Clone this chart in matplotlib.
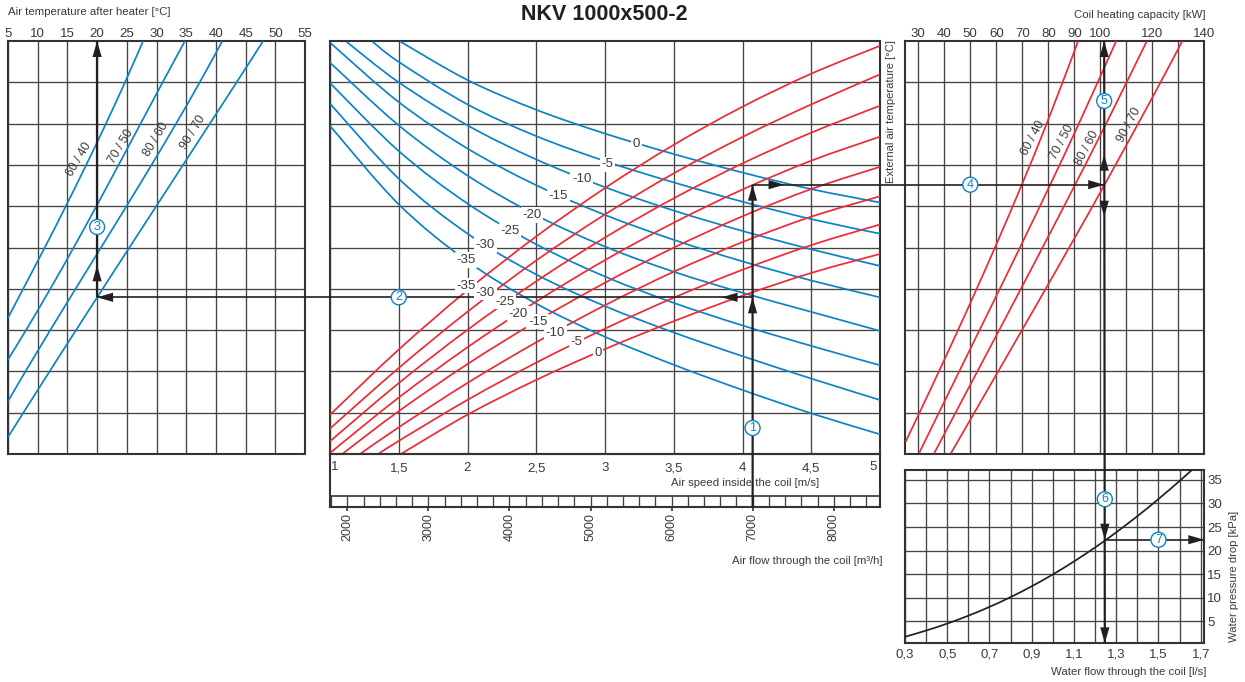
import matplotlib
matplotlib.use('Agg')
import matplotlib.pyplot as plt
import numpy as np
from matplotlib.path import Path
from matplotlib.patches import PathPatch, Polygon

plt.rcParams['font.family'] = ['Liberation Sans', 'DejaVu Sans']

BLUE = '#0a84c6'
RED = '#ee2a35'
INK = '#231f20'
TXT = '#3a3a3a'
GRID = '#444444'

# the panels have no y scale, heights are in chart units, grid every 41.3
chart_h = 413
grid_y = [41.3 * i for i in range(1, 10)]

# left panel: air temperature after heater
temp_ticks = [5, 10, 15, 20, 25, 30, 35, 40, 45, 50, 55]
regimes = ['60 / 40', '70 / 50', '80 / 60', '90 / 70']
heater_t = [
    [27.7, 24.9, 21.3, 18.1, 14.9, 11.0, 5.0],
    [34.8, 31.1, 27.2, 23.6, 20.0, 15.9, 12.1, 7.9, 5.0],
    [41.1, 37.3, 33.3, 29.1, 25.0, 20.5, 16.3, 12.1, 7.9, 5.0],
    [47.9, 43.6, 39.0, 34.5, 29.9, 25.2, 20.8, 16.5, 12.1, 7.5, 5.0],
]
heater_h = [
    [413, 372, 330.7, 288.5, 247, 206, 136],
    [413, 372, 330.7, 288.5, 247, 206, 165, 123, 94],
    [413, 372, 330.7, 288.5, 247, 206, 165, 123, 82, 53],
    [413, 372, 330.7, 288.5, 247, 206, 165, 123, 82, 41.5, 17],
]

# centre panel: speed / external temperature
speed_ticks = [1, 1.5, 2, 2.5, 3, 3.5, 4, 4.5, 5]
speed_labels = ['', '1,5', '2', '2,5', '3', '3,5', '4', '4,5', '']
flow_ticks = [2000, 3000, 4000, 5000, 6000, 7000, 8000]
ext_temps = ['0', '-5', '-10', '-15', '-20', '-25', '-30', '-35']

blue_s = [
    [1.51, 2, 2.5, 3, 3.5, 4, 4.5, 5],
    [1.31, 1.5, 2, 2.5, 3, 3.5, 4, 4.5, 5],
    [1.12, 1.5, 2, 2.5, 3, 3.5, 4, 4.5, 5],
    [1, 1.5, 2, 2.5, 3, 3.5, 4, 4.5, 5],
    [1, 1.5, 2, 2.5, 3, 3.5, 4, 4.5, 5],
    [1, 1.5, 2, 2.5, 3, 3.5, 4, 4.5, 5],
    [1, 1.5, 2, 2.5, 3, 3.5, 4, 4.5, 5],
    [1, 1.5, 2, 2.5, 3, 3.5, 4, 4.5, 5],
]
blue_h = [
    [412.5, 374, 345, 319, 300.5, 282.3, 264, 251.7],
    [412.3, 392.3, 349, 318, 294, 271, 251.3, 236, 220],
    [412.3, 372, 327.3, 296, 267, 243, 222, 206, 187.7],
    [412.3, 350, 304.7, 273, 238, 212, 192, 176, 155.7],
    [391.7, 327.3, 280.7, 237, 208, 182.3, 161, 142.3, 123],
    [370.7, 304, 249, 211, 176, 152, 129, 107.3, 89],
    [349, 280.7, 214, 181, 149, 122.3, 97, 75, 54.3],
    [328.3, 249, 194, 149, 118, 89, 64, 40.7, 19.7],
]
blue_lab_s = [3.23, 3.02, 2.83, 2.66, 2.47, 2.31, 2.13, 1.99]
blue_lab_h = [309.7, 289.7, 275, 258, 239, 223, 209, 194]

red_s = [
    [1.52, 2, 2.5, 3, 3.5, 4, 4.5, 5],
    [1.35, 1.5, 2, 2.5, 3, 3.5, 4, 4.5, 5],
    [1.22, 1.5, 2, 2.5, 3, 3.5, 4, 4.5, 5],
    [1.09, 1.5, 2, 2.5, 3, 3.5, 4, 4.5, 5],
    [1, 1.5, 2, 2.5, 3, 3.5, 4, 4.5, 5],
    [1, 1.5, 2, 2.5, 3, 3.5, 4, 4.5, 5],
    [1, 1.5, 2, 2.5, 3, 3.5, 4, 4.5, 5],
    [1, 1.5, 2, 2.5, 3, 3.5, 4, 4.5, 5],
]
red_h = [
    [0.5, 39, 74, 106, 131.3, 159, 181, 200],
    [0.5, 12.3, 54, 92.3, 125, 155, 186, 208, 229.7],
    [0.5, 25.7, 72.3, 111, 149, 181, 214, 236, 258],
    [0.5, 41.7, 91, 132.3, 172, 204, 240, 264, 287.3],
    [1.3, 55.7, 107.3, 152.3, 195, 229, 266, 293, 317.3],
    [13.3, 69, 126, 172.3, 217.3, 254, 291, 322, 348],
    [25.7, 85, 144, 192.3, 240, 280, 318, 349, 379.7],
    [39, 105, 164, 216, 267.3, 309, 347.3, 380, 408.3],
]
red_lab_s = [2.95, 2.79, 2.64, 2.51, 2.37, 2.27, 2.13, 1.99]
red_lab_h = [101.3, 111.7, 121.3, 132.3, 140, 152.3, 161.3, 168.3]

# right panel: coil heating capacity
cap_grid = [30, 40, 50, 60, 70, 80, 90, 100, 110, 120, 130, 140]
cap_labels = ['30', '40', '50', '60', '70', '80', '90', '100', '', '120', '', '140']
cap_kw = [
    [91.6, 79.2, 70, 60.9, 52.4, 45.6, 37.7, 30.4, 25.3],
    [106.1, 92, 80.2, 70.2, 62, 53.6, 45.3, 38.3, 30.4],
    [118.3, 101.3, 89.8, 80.5, 70.2, 60, 53, 43.7, 36.7],
    [131.8, 119.8, 101.5, 92.2, 79.8, 69.6, 60.2, 51.7, 42.8],
]
cap_h = [
    [413, 330.7, 269.7, 214, 165.7, 124, 82.3, 42.3, 12],
    [413, 330.7, 267.3, 214, 165.7, 124, 82.3, 42.3, 1.3],
    [413, 330.7, 267.3, 214, 165.7, 124, 82.3, 42.3, 0.7],
    [413, 357.3, 269.7, 224, 165.7, 124, 82.3, 42.3, 0.7],
]

# bottom right panel: water side
water_grid = [0.3, 0.4, 0.5, 0.6, 0.7, 0.8, 0.9, 1.0, 1.1, 1.2, 1.3, 1.4, 1.5, 1.6, 1.7]
water_labels = ['0,3', '', '0,5', '', '0,7', '', '0,9', '', '1,1', '', '1,3', '', '1,5', '', '1,7']
drop_ticks = [5, 10, 15, 20, 25, 30, 35]
water_q = [0.3, 0.4, 0.5, 0.6, 0.7, 0.8, 0.9, 1.0, 1.1, 1.2, 1.25, 1.3, 1.4, 1.5, 1.6, 1.66]
water_dp = [1.7, 3.0, 4.6, 6.1, 8.1, 10.1, 12.4, 14.9, 17.7, 20.7, 22.3, 23.9, 27.3, 30.7, 35, 37.1]

# worked example
ex_speed = 4.073
ex_flow = 7000
ex_h_temp = 156.7
ex_h_ext = 269.3
ex_temp = 20
ex_cap = 101.5
ex_q = 1.246
ex_dp = 22.3

W, H = 1245, 682
fig = plt.figure(figsize=(W / 100, H / 100), dpi=100)


def panel(l, t, r, b):
    a = fig.add_axes([l / W, 1 - b / H, (r - l) / W, (b - t) / H])
    a.set_axisbelow(True)
    for s in a.spines.values():
        s.set_linewidth(1.5)
        s.set_color('#333333')
    a.tick_params(length=0, labelsize=9.5, labelcolor=TXT)
    a.grid(True, color=GRID, lw=0.95)
    return a


def curve(a, xs, ys, color, steep=False):
    # smooth line through the read points, a low order fit takes out reading noise
    xs = np.array(xs, float)
    ys = np.array(ys, float)
    if steep:
        xs = np.polyval(np.polyfit(ys, xs, 3), ys)
    else:
        ys = np.polyval(np.polyfit(xs, ys, 4), xs)
    p = np.column_stack([xs, ys])
    q = np.vstack([p[0], p, p[-1]])
    verts = [p[0]]
    codes = [Path.MOVETO]
    for i in range(1, len(q) - 2):
        verts += [q[i] + (q[i + 1] - q[i - 1]) / 6, q[i + 1] - (q[i + 2] - q[i]) / 6, q[i + 1]]
        codes += [Path.CURVE4] * 3
    a.add_patch(PathPatch(Path(verts, codes), fc='none', ec=color, lw=1.25, zorder=3))


# left
ax_l = panel(8, 41, 305, 454)
ax_l.set_xlim(5, 55)
ax_l.set_ylim(0, chart_h)
ax_l.set_xticks(temp_ticks)
ax_l.set_yticks(grid_y)
ax_l.set_yticklabels([])
ax_l.xaxis.tick_top()
ax_l.tick_params(axis='x', pad=1)
for ts, hs in zip(heater_t, heater_h):
    curve(ax_l, ts, hs, BLUE, steep=True)

# centre
ax_c = panel(330, 41, 880, 454)
ax_c.set_xlim(1, 5)
ax_c.set_ylim(0, chart_h)
ax_c.set_xticks(speed_ticks)
ax_c.set_xticklabels(speed_labels)
ax_c.set_yticks(grid_y)
ax_c.set_yticklabels([])
ax_c.tick_params(axis='x', pad=6)
for ss, hs in zip(blue_s, blue_h):
    curve(ax_c, ss, hs, BLUE)
for ss, hs in zip(red_s, red_h):
    curve(ax_c, ss, hs, RED)

# flow strip under the centre panel
ax_f = panel(330, 454, 880, 507)
ax_f.grid(False)
ax_f.patch.set_alpha(0)
ax_f.set_xlim(1786, 8571)
ax_f.set_ylim(0, 1)
ax_f.set_yticks([])
ax_f.set_xticks(flow_ticks)
ax_f.tick_params(axis='x', length=3, width=1.2, color='#333333', labelrotation=90, pad=1.5, labelsize=9)
ax_f.axhline(0.215, color='#333333', lw=1.2)
ax_f.vlines(np.arange(1800, 8600, 200), 0, 0.215, color=GRID, lw=0.95)

# right
ax_r = panel(905, 41, 1204.3, 454)
ax_r.set_xlim(24.9, 140)
ax_r.set_ylim(0, chart_h)
ax_r.set_xticks(cap_grid)
ax_r.set_xticklabels(cap_labels)
ax_r.set_yticks(grid_y)
ax_r.set_yticklabels([])
ax_r.xaxis.tick_top()
ax_r.tick_params(axis='x', pad=1)
for cs, hs in zip(cap_kw, cap_h):
    curve(ax_r, cs, hs, RED, steep=True)

# water
ax_w = panel(905, 470, 1204.3, 643.3)
ax_w.set_xlim(0.3, 1.717)
ax_w.set_ylim(0.32, 37.1)
ax_w.set_xticks(water_grid)
ax_w.set_xticklabels(water_labels)
ax_w.tick_params(axis='x', pad=4)
ax_w.set_yticks(drop_ticks)
ax_w.yaxis.tick_right()
ax_w.tick_params(axis='y', pad=2)
curve(ax_w, water_q, water_dp, INK)

# overlay in pixels, everything that crosses panels goes here
ov = fig.add_axes([0, 0, 1, 1], zorder=10)
ov.set_xlim(0, W)
ov.set_ylim(H, 0)
ov.axis('off')


def at(a, x, y):
    return ov.transData.inverted().transform(a.transData.transform((x, y)))


def seg(p, q, lw=1.4):
    ov.plot([p[0], q[0]], [p[1], q[1]], color=INK, lw=lw, solid_capstyle='butt', zorder=3)


def head(tip, dx, dy):
    tip = np.array(tip)
    d = np.array([dx, dy])
    n = np.array([-dy, dx])
    ov.add_patch(Polygon([tip, tip - 16 * d + 4.6 * n, tip - 16 * d - 4.6 * n], fc=INK, ec='none', zorder=5))


def ring(a, x, y, s):
    xp, yp = at(a, x, y)
    ov.text(xp, yp, s, color=BLUE, fontsize=9, ha='center', va='center', zorder=6,
            bbox=dict(boxstyle='circle,pad=0.12', fc='white', ec=BLUE, lw=1))


strip_bottom = at(ax_f, ex_flow, 0)
p_speed = at(ax_c, ex_speed, ex_h_temp)
p_ext = at(ax_c, ex_speed, ex_h_ext)
p_temp = at(ax_l, ex_temp, ex_h_temp)
p_temp_top = at(ax_l, ex_temp, chart_h)
p_cap = at(ax_r, ex_cap, ex_h_ext)
p_cap_top = at(ax_r, ex_cap, chart_h)
p_w_bottom = at(ax_w, ex_q, 0.32)
p_w = at(ax_w, ex_q, ex_dp)
p_w_right = at(ax_w, 1.717, ex_dp)

seg(strip_bottom, p_ext, 1.6)
seg(p_speed, p_temp, 1.2)
seg(p_temp, p_temp_top, 1.6)
seg(p_ext, p_cap, 1.2)
seg(p_cap_top, p_w_bottom, 1.6)
seg(p_w, p_w_right, 1.2)

head(p_speed, 0, -1)
head(p_ext, 0, -1)
head(p_speed + (-31, 0), -1, 0)
head(p_ext + (32, 0), 1, 0)
head(p_temp, -1, 0)
head(p_temp + (0, -32), 0, -1)
head(p_temp_top, 0, -1)
head(p_cap, 1, 0)
head(p_cap + (0, -30), 0, -1)
head(p_cap + (0, 32), 0, 1)
head(p_cap_top, 0, -1)
head(p_w, 0, 1)
head(p_w_bottom, 0, 1)
head(p_w_right, 1, 0)

ring(ax_c, ex_speed, 26, '1')
ring(ax_c, 1.5, ex_h_temp, '2')
ring(ax_l, ex_temp, 227, '3')
ring(ax_r, 50, ex_h_ext, '4')
ring(ax_r, ex_cap, 353, '5')
ring(ax_w, ex_q, 30.9, '6')
ring(ax_w, 1.5, ex_dp, '7')

# temperature labels on the curves, white box cuts the line
for s, h, t in zip(blue_lab_s + red_lab_s, blue_lab_h + red_lab_h, ext_temps + ext_temps):
    xp, yp = at(ax_c, s, h)
    ov.text(xp, yp, t, fontsize=9.5, color=TXT, ha='center', va='center', zorder=4,
            bbox=dict(boxstyle='square,pad=0.12', fc='white', ec='none'))

# regime labels
for (xp, yp), t in zip([(79, 159), (120.7, 146.7), (155.7, 139.3), (193.3, 132.3)], regimes):
    ov.text(xp, yp, t, fontsize=8.8, color=TXT, rotation=59, ha='center', va='center', zorder=4)
for (xp, yp), t in zip([(1033.3, 138.3), (1061.7, 141.7), (1087.3, 148.3), (1129.3, 125)], regimes):
    ov.text(xp, yp, t, fontsize=8.8, color=TXT, rotation=62, ha='center', va='center', zorder=4)

# first and last speed labels sit inside the panel edges
ov.text(335, 466.5, '1', fontsize=9.5, color=TXT, ha='center', va='center')
ov.text(873, 466.5, '5', fontsize=9.5, color=TXT, ha='center', va='center')

ov.text(604, 15, 'NKV 1000x500-2', fontsize=15.5, fontweight='bold', color=INK, ha='center', va='center')
ov.text(8, 12, 'Air temperature after heater [°C]', fontsize=8.2, color=TXT, ha='left', va='center')
ov.text(1205, 14.7, 'Coil heating capacity [kW]', fontsize=8.2, color=TXT, ha='right', va='center')
ov.text(819, 483, 'Air speed inside the coil [m/s]', fontsize=8.2, color=TXT, ha='right', va='center')
ov.text(882, 560.7, 'Air flow through the coil [m³/h]', fontsize=8.2, color=TXT, ha='right', va='center')
ov.text(891, 112, 'External air temperature [°C]', fontsize=8.1, color=TXT, rotation=90, ha='center', va='center')
ov.text(1234, 576.5, 'Water pressure drop [kPa]', fontsize=8.1, color=TXT, rotation=90, ha='center', va='center')
ov.text(1206, 671.7, 'Water flow through the coil [l/s]', fontsize=8.2, color=TXT, ha='right', va='center')

fig.savefig('out.png', dpi=100, facecolor='white')
